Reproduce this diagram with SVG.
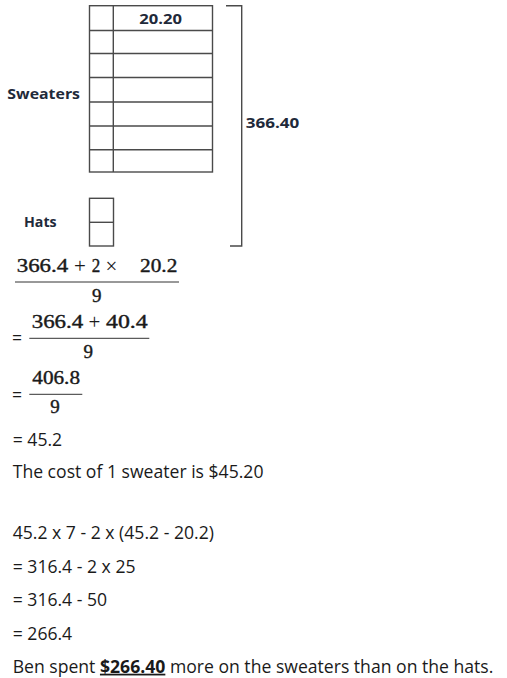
<svg xmlns="http://www.w3.org/2000/svg" width="507" height="678" viewBox="0 0 507 678">
<style>
.box{fill:none;stroke:#4a4a4a;stroke-width:1.4}
.lbl{font-family:"Open Sans","Liberation Sans",sans-serif;font-weight:bold;font-size:14px;fill:#1f2a3a}
.math{font-family:"Liberation Serif","DejaVu Serif",serif;font-size:19px;fill:#1a1a1a;stroke:#1a1a1a;stroke-width:0.4}
.op{font-family:"Liberation Serif","DejaVu Serif",serif;font-size:21px;fill:#1a1a1a}
.txt{font-family:"Open Sans","Liberation Sans",sans-serif;font-size:17.6px;fill:#1a1a1a}
.frac{stroke:#333;stroke-width:1}
</style>
<rect width="507" height="678" fill="#fff"/>
<g id="sweaters">
<rect class="box" x="89.5" y="5.7" width="123" height="166.3"/>
<line class="box" x1="113.3" y1="5.7" x2="113.3" y2="172"/>
<line class="box" x1="89.5" y1="30.5" x2="212.5" y2="30.5"/>
<line class="box" x1="89.5" y1="53.5" x2="212.5" y2="53.5"/>
<line class="box" x1="89.5" y1="77.5" x2="212.5" y2="77.5"/>
<line class="box" x1="89.5" y1="102" x2="212.5" y2="102"/>
<line class="box" x1="89.5" y1="126" x2="212.5" y2="126"/>
<line class="box" x1="89.5" y1="149.7" x2="212.5" y2="149.7"/>
<text class="lbl" x="139.3" y="24" textLength="42.7" lengthAdjust="spacingAndGlyphs">20.20</text>
<text class="lbl" x="7.3" y="99" textLength="72.7" lengthAdjust="spacingAndGlyphs">Sweaters</text>
</g>
<g id="hats">
<rect class="box" x="89.5" y="198.3" width="24" height="47.7"/>
<line class="box" x1="89.5" y1="222.3" x2="113.5" y2="222.3"/>
<text class="lbl" x="24" y="226.7" textLength="32.7" lengthAdjust="spacingAndGlyphs">Hats</text>
</g>
<g id="total">
<polyline class="box" points="226,5.7 241.7,5.7 241.7,246 230,246"/>
<text class="lbl" x="245.7" y="127.5" textLength="53.6" lengthAdjust="spacingAndGlyphs">366.40</text>
</g>
<g id="working">
<text class="math" x="16.7" y="272.3" textLength="51.6" lengthAdjust="spacingAndGlyphs">366.4</text>
<text class="op" x="80" y="273" text-anchor="middle">+</text>
<text class="math" x="96" y="272.3" text-anchor="middle" textLength="8.5" lengthAdjust="spacingAndGlyphs">2</text>
<text class="op" x="111.5" y="272.5" text-anchor="middle">×</text>
<text class="math" x="140" y="272.3" textLength="37.3" lengthAdjust="spacingAndGlyphs">20.2</text>
<line class="frac" x1="15" y1="282" x2="179" y2="282"/>
<text class="math" x="96.7" y="301.7" text-anchor="middle">9</text>
<text class="txt" x="12" y="344">=</text>
<text class="math" x="31.7" y="328.3" textLength="51.6" lengthAdjust="spacingAndGlyphs">366.4</text>
<text class="op" x="94.3" y="329" text-anchor="middle">+</text>
<text class="math" x="106" y="328.3" textLength="41.7" lengthAdjust="spacingAndGlyphs">40.4</text>
<line class="frac" x1="29.3" y1="338.3" x2="149.3" y2="338.3"/>
<text class="math" x="88.3" y="357.7" text-anchor="middle">9</text>
<text class="txt" x="12" y="401">=</text>
<text class="math" x="32.3" y="384.3" textLength="47.7" lengthAdjust="spacingAndGlyphs">406.8</text>
<line class="frac" x1="29.3" y1="394.3" x2="82.3" y2="394.3"/>
<text class="math" x="55" y="413.3" text-anchor="middle">9</text>
<text class="txt" x="12.7" y="446">= 45.2</text>
<text class="txt" x="12.7" y="478.3">The cost of 1 sweater is $45.20</text>
<text class="txt" x="12.7" y="539.3">45.2 x 7 - 2 x (45.2 - 20.2)</text>
<text class="txt" x="12.7" y="573.3">= 316.4 - 2 x 25</text>
<text class="txt" x="12.7" y="605.7">= 316.4 - 50</text>
<text class="txt" x="12.7" y="640">= 266.4</text>
<text class="txt" x="12.7" y="672.7">Ben spent <tspan font-weight="bold" text-decoration="underline">$266.40</tspan> more on the sweaters than on the hats.</text>
</g>
</svg>
